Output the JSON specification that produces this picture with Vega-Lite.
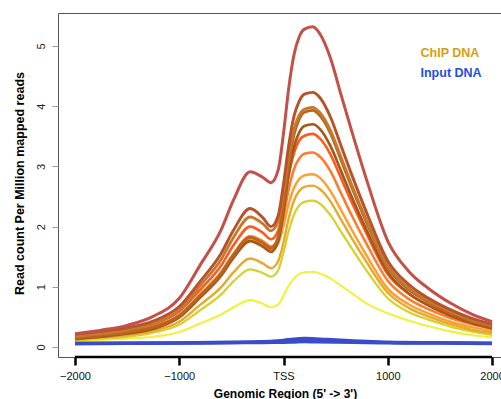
{
"$schema": "https://vega.github.io/schema/vega-lite/v6.json",
"autosize": {"type": "none"},
"padding": {"left": 58, "top": 13, "right": 0, "bottom": 42},
"width": 443,
"height": 344,
"config": {"font": "Liberation Sans", "view": {"stroke": "#555555", "strokeWidth": 1}},
"datasets": {
"chip": [
{"s":"K","x":-2000,"y":0.10},{"s":"K","x":-1750,"y":0.12},{"s":"K","x":-1500,"y":0.14},{"s":"K","x":-1250,"y":0.17},{"s":"K","x":-1000,"y":0.25},{"s":"K","x":-800,"y":0.39},{"s":"K","x":-600,"y":0.54},{"s":"K","x":-480,"y":0.66},{"s":"K","x":-320,"y":0.78},{"s":"K","x":-200,"y":0.72},{"s":"K","x":-120,"y":0.66},{"s":"K","x":-50,"y":0.71},{"s":"K","x":0,"y":0.85},{"s":"K","x":50,"y":1.02},{"s":"K","x":100,"y":1.14},{"s":"K","x":150,"y":1.21},{"s":"K","x":200,"y":1.24},{"s":"K","x":280,"y":1.25},{"s":"K","x":350,"y":1.22},{"s":"K","x":450,"y":1.14},{"s":"K","x":550,"y":1.02},{"s":"K","x":650,"y":0.90},{"s":"K","x":800,"y":0.72},{"s":"K","x":1000,"y":0.56},{"s":"K","x":1200,"y":0.44},{"s":"K","x":1400,"y":0.34},{"s":"K","x":1600,"y":0.26},{"s":"K","x":1800,"y":0.20},{"s":"K","x":2000,"y":0.16},
{"s":"J","x":-2000,"y":0.11},{"s":"J","x":-1750,"y":0.14},{"s":"J","x":-1500,"y":0.17},{"s":"J","x":-1250,"y":0.24},{"s":"J","x":-1000,"y":0.37},{"s":"J","x":-800,"y":0.61},{"s":"J","x":-600,"y":0.87},{"s":"J","x":-480,"y":1.09},{"s":"J","x":-320,"y":1.29},{"s":"J","x":-200,"y":1.23},{"s":"J","x":-120,"y":1.17},{"s":"J","x":-50,"y":1.28},{"s":"J","x":0,"y":1.57},{"s":"J","x":50,"y":1.93},{"s":"J","x":100,"y":2.20},{"s":"J","x":150,"y":2.35},{"s":"J","x":200,"y":2.41},{"s":"J","x":280,"y":2.43},{"s":"J","x":350,"y":2.38},{"s":"J","x":450,"y":2.19},{"s":"J","x":550,"y":1.92},{"s":"J","x":650,"y":1.65},{"s":"J","x":800,"y":1.26},{"s":"J","x":1000,"y":0.81},{"s":"J","x":1200,"y":0.58},{"s":"J","x":1400,"y":0.45},{"s":"J","x":1600,"y":0.34},{"s":"J","x":1800,"y":0.26},{"s":"J","x":2000,"y":0.20},
{"s":"I","x":-2000,"y":0.13},{"s":"I","x":-1750,"y":0.16},{"s":"I","x":-1500,"y":0.20},{"s":"I","x":-1250,"y":0.27},{"s":"I","x":-1000,"y":0.42},{"s":"I","x":-800,"y":0.70},{"s":"I","x":-600,"y":0.99},{"s":"I","x":-480,"y":1.24},{"s":"I","x":-320,"y":1.47},{"s":"I","x":-200,"y":1.39},{"s":"I","x":-120,"y":1.31},{"s":"I","x":-50,"y":1.43},{"s":"I","x":0,"y":1.74},{"s":"I","x":50,"y":2.14},{"s":"I","x":100,"y":2.43},{"s":"I","x":150,"y":2.59},{"s":"I","x":200,"y":2.66},{"s":"I","x":280,"y":2.68},{"s":"I","x":350,"y":2.62},{"s":"I","x":450,"y":2.42},{"s":"I","x":550,"y":2.12},{"s":"I","x":650,"y":1.82},{"s":"I","x":800,"y":1.40},{"s":"I","x":1000,"y":0.90},{"s":"I","x":1200,"y":0.65},{"s":"I","x":1400,"y":0.50},{"s":"I","x":1600,"y":0.38},{"s":"I","x":1800,"y":0.29},{"s":"I","x":2000,"y":0.23},
{"s":"H","x":-2000,"y":0.14},{"s":"H","x":-1750,"y":0.18},{"s":"H","x":-1500,"y":0.23},{"s":"H","x":-1250,"y":0.32},{"s":"H","x":-1000,"y":0.50},{"s":"H","x":-800,"y":0.84},{"s":"H","x":-600,"y":1.20},{"s":"H","x":-480,"y":1.50},{"s":"H","x":-320,"y":1.79},{"s":"H","x":-200,"y":1.71},{"s":"H","x":-120,"y":1.62},{"s":"H","x":-50,"y":1.73},{"s":"H","x":0,"y":2.02},{"s":"H","x":50,"y":2.38},{"s":"H","x":100,"y":2.64},{"s":"H","x":150,"y":2.79},{"s":"H","x":200,"y":2.85},{"s":"H","x":280,"y":2.87},{"s":"H","x":350,"y":2.81},{"s":"H","x":450,"y":2.59},{"s":"H","x":550,"y":2.28},{"s":"H","x":650,"y":1.96},{"s":"H","x":800,"y":1.51},{"s":"H","x":1000,"y":0.97},{"s":"H","x":1200,"y":0.71},{"s":"H","x":1400,"y":0.55},{"s":"H","x":1600,"y":0.42},{"s":"H","x":1800,"y":0.33},{"s":"H","x":2000,"y":0.26},
{"s":"G","x":-2000,"y":0.16},{"s":"G","x":-1750,"y":0.20},{"s":"G","x":-1500,"y":0.25},{"s":"G","x":-1250,"y":0.34},{"s":"G","x":-1000,"y":0.53},{"s":"G","x":-800,"y":0.87},{"s":"G","x":-600,"y":1.24},{"s":"G","x":-480,"y":1.55},{"s":"G","x":-320,"y":1.84},{"s":"G","x":-200,"y":1.76},{"s":"G","x":-120,"y":1.67},{"s":"G","x":-50,"y":1.80},{"s":"G","x":0,"y":2.17},{"s":"G","x":50,"y":2.62},{"s":"G","x":100,"y":2.95},{"s":"G","x":150,"y":3.13},{"s":"G","x":200,"y":3.21},{"s":"G","x":280,"y":3.23},{"s":"G","x":350,"y":3.16},{"s":"G","x":450,"y":2.92},{"s":"G","x":550,"y":2.56},{"s":"G","x":650,"y":2.20},{"s":"G","x":800,"y":1.70},{"s":"G","x":1000,"y":1.10},{"s":"G","x":1200,"y":0.80},{"s":"G","x":1400,"y":0.62},{"s":"G","x":1600,"y":0.48},{"s":"G","x":1800,"y":0.38},{"s":"G","x":2000,"y":0.30},
{"s":"F","x":-2000,"y":0.19},{"s":"F","x":-1750,"y":0.23},{"s":"F","x":-1500,"y":0.28},{"s":"F","x":-1250,"y":0.38},{"s":"F","x":-1000,"y":0.59},{"s":"F","x":-800,"y":0.95},{"s":"F","x":-600,"y":1.35},{"s":"F","x":-480,"y":1.69},{"s":"F","x":-320,"y":2.00},{"s":"F","x":-200,"y":1.90},{"s":"F","x":-120,"y":1.79},{"s":"F","x":-50,"y":1.94},{"s":"F","x":0,"y":2.35},{"s":"F","x":50,"y":2.85},{"s":"F","x":100,"y":3.22},{"s":"F","x":150,"y":3.43},{"s":"F","x":200,"y":3.51},{"s":"F","x":280,"y":3.54},{"s":"F","x":350,"y":3.46},{"s":"F","x":450,"y":3.20},{"s":"F","x":550,"y":2.81},{"s":"F","x":650,"y":2.42},{"s":"F","x":800,"y":1.87},{"s":"F","x":1000,"y":1.21},{"s":"F","x":1200,"y":0.89},{"s":"F","x":1400,"y":0.69},{"s":"F","x":1600,"y":0.54},{"s":"F","x":1800,"y":0.42},{"s":"F","x":2000,"y":0.34},
{"s":"E","x":-2000,"y":0.13},{"s":"E","x":-1750,"y":0.17},{"s":"E","x":-1500,"y":0.22},{"s":"E","x":-1250,"y":0.30},{"s":"E","x":-1000,"y":0.49},{"s":"E","x":-800,"y":0.82},{"s":"E","x":-600,"y":1.18},{"s":"E","x":-480,"y":1.48},{"s":"E","x":-320,"y":1.76},{"s":"E","x":-200,"y":1.67},{"s":"E","x":-120,"y":1.58},{"s":"E","x":-50,"y":1.76},{"s":"E","x":0,"y":2.25},{"s":"E","x":50,"y":2.87},{"s":"E","x":100,"y":3.32},{"s":"E","x":150,"y":3.56},{"s":"E","x":200,"y":3.67},{"s":"E","x":280,"y":3.70},{"s":"E","x":350,"y":3.62},{"s":"E","x":450,"y":3.34},{"s":"E","x":550,"y":2.93},{"s":"E","x":650,"y":2.51},{"s":"E","x":800,"y":1.93},{"s":"E","x":1000,"y":1.24},{"s":"E","x":1200,"y":0.89},{"s":"E","x":1400,"y":0.68},{"s":"E","x":1600,"y":0.52},{"s":"E","x":1800,"y":0.40},{"s":"E","x":2000,"y":0.31},
{"s":"D","x":-2000,"y":0.15},{"s":"D","x":-1750,"y":0.19},{"s":"D","x":-1500,"y":0.24},{"s":"D","x":-1250,"y":0.33},{"s":"D","x":-1000,"y":0.52},{"s":"D","x":-800,"y":0.86},{"s":"D","x":-600,"y":1.22},{"s":"D","x":-480,"y":1.53},{"s":"D","x":-320,"y":1.82},{"s":"D","x":-200,"y":1.73},{"s":"D","x":-120,"y":1.64},{"s":"D","x":-50,"y":1.84},{"s":"D","x":0,"y":2.37},{"s":"D","x":50,"y":3.03},{"s":"D","x":100,"y":3.52},{"s":"D","x":150,"y":3.78},{"s":"D","x":200,"y":3.90},{"s":"D","x":280,"y":3.93},{"s":"D","x":350,"y":3.84},{"s":"D","x":450,"y":3.55},{"s":"D","x":550,"y":3.11},{"s":"D","x":650,"y":2.67},{"s":"D","x":800,"y":2.05},{"s":"D","x":1000,"y":1.32},{"s":"D","x":1200,"y":0.95},{"s":"D","x":1400,"y":0.74},{"s":"D","x":1600,"y":0.57},{"s":"D","x":1800,"y":0.43},{"s":"D","x":2000,"y":0.34},
{"s":"C","x":-2000,"y":0.18},{"s":"C","x":-1750,"y":0.22},{"s":"C","x":-1500,"y":0.28},{"s":"C","x":-1250,"y":0.39},{"s":"C","x":-1000,"y":0.61},{"s":"C","x":-800,"y":1.02},{"s":"C","x":-600,"y":1.45},{"s":"C","x":-480,"y":1.82},{"s":"C","x":-320,"y":2.16},{"s":"C","x":-200,"y":2.05},{"s":"C","x":-120,"y":1.93},{"s":"C","x":-50,"y":2.10},{"s":"C","x":0,"y":2.58},{"s":"C","x":50,"y":3.17},{"s":"C","x":100,"y":3.61},{"s":"C","x":150,"y":3.85},{"s":"C","x":200,"y":3.95},{"s":"C","x":280,"y":3.98},{"s":"C","x":350,"y":3.89},{"s":"C","x":450,"y":3.60},{"s":"C","x":550,"y":3.16},{"s":"C","x":650,"y":2.71},{"s":"C","x":800,"y":2.09},{"s":"C","x":1000,"y":1.35},{"s":"C","x":1200,"y":0.98},{"s":"C","x":1400,"y":0.76},{"s":"C","x":1600,"y":0.59},{"s":"C","x":1800,"y":0.45},{"s":"C","x":2000,"y":0.36},
{"s":"B","x":-2000,"y":0.21},{"s":"B","x":-1750,"y":0.26},{"s":"B","x":-1500,"y":0.32},{"s":"B","x":-1250,"y":0.43},{"s":"B","x":-1000,"y":0.67},{"s":"B","x":-800,"y":1.09},{"s":"B","x":-600,"y":1.55},{"s":"B","x":-480,"y":1.94},{"s":"B","x":-320,"y":2.30},{"s":"B","x":-200,"y":2.15},{"s":"B","x":-120,"y":2.00},{"s":"B","x":-50,"y":2.19},{"s":"B","x":0,"y":2.71},{"s":"B","x":50,"y":3.35},{"s":"B","x":100,"y":3.83},{"s":"B","x":150,"y":4.08},{"s":"B","x":200,"y":4.20},{"s":"B","x":280,"y":4.23},{"s":"B","x":350,"y":4.14},{"s":"B","x":450,"y":3.82},{"s":"B","x":550,"y":3.35},{"s":"B","x":650,"y":2.88},{"s":"B","x":800,"y":2.22},{"s":"B","x":1000,"y":1.43},{"s":"B","x":1200,"y":1.04},{"s":"B","x":1400,"y":0.80},{"s":"B","x":1600,"y":0.62},{"s":"B","x":1800,"y":0.48},{"s":"B","x":2000,"y":0.38},
{"s":"A","x":-2000,"y":0.22},{"s":"A","x":-1750,"y":0.28},{"s":"A","x":-1500,"y":0.36},{"s":"A","x":-1250,"y":0.51},{"s":"A","x":-1000,"y":0.81},{"s":"A","x":-800,"y":1.36},{"s":"A","x":-600,"y":1.94},{"s":"A","x":-480,"y":2.44},{"s":"A","x":-320,"y":2.91},{"s":"A","x":-200,"y":2.82},{"s":"A","x":-120,"y":2.73},{"s":"A","x":-50,"y":2.95},{"s":"A","x":0,"y":3.55},{"s":"A","x":50,"y":4.30},{"s":"A","x":100,"y":4.85},{"s":"A","x":150,"y":5.15},{"s":"A","x":200,"y":5.28},{"s":"A","x":280,"y":5.32},{"s":"A","x":350,"y":5.20},{"s":"A","x":450,"y":4.80},{"s":"A","x":550,"y":4.20},{"s":"A","x":650,"y":3.61},{"s":"A","x":800,"y":2.76},{"s":"A","x":1000,"y":1.76},{"s":"A","x":1200,"y":1.26},{"s":"A","x":1400,"y":0.96},{"s":"A","x":1600,"y":0.73},{"s":"A","x":1800,"y":0.55},{"s":"A","x":2000,"y":0.42}
],
"input": [
{"s":"I1","x":-2000,"y":0.06},{"s":"I1","x":-1500,"y":0.062},{"s":"I1","x":-1000,"y":0.065},{"s":"I1","x":-500,"y":0.07},{"s":"I1","x":-300,"y":0.075},{"s":"I1","x":-100,"y":0.078},{"s":"I1","x":0,"y":0.08},{"s":"I1","x":100,"y":0.085},{"s":"I1","x":200,"y":0.09},{"s":"I1","x":300,"y":0.088},{"s":"I1","x":500,"y":0.082},{"s":"I1","x":800,"y":0.075},{"s":"I1","x":1000,"y":0.07},{"s":"I1","x":1500,"y":0.065},{"s":"I1","x":2000,"y":0.06},
{"s":"I2","x":-2000,"y":0.06},{"s":"I2","x":-1500,"y":0.063},{"s":"I2","x":-1000,"y":0.068},{"s":"I2","x":-500,"y":0.078},{"s":"I2","x":-300,"y":0.085},{"s":"I2","x":-100,"y":0.095},{"s":"I2","x":0,"y":0.11},{"s":"I2","x":100,"y":0.13},{"s":"I2","x":200,"y":0.14},{"s":"I2","x":300,"y":0.135},{"s":"I2","x":500,"y":0.115},{"s":"I2","x":800,"y":0.09},{"s":"I2","x":1000,"y":0.08},{"s":"I2","x":1500,"y":0.07},{"s":"I2","x":2000,"y":0.062}
],
"labels": [
{"label": "ChIP DNA", "kind": "ChIP"},
{"label": "Input DNA", "kind": "Input"}
]
},
"layer": [
{
"data": {"name": "chip"},
"mark": {"type": "line", "interpolate": "monotone", "clip": true},
"encoding": {
"x": {"field": "x", "type": "quantitative", "scale": {"domain": [-2163, 2086], "nice": false, "zero": false},
"axis": {"values": [-2000, -1000, 0, 1000, 2000], "labelExpr": "datum.value == 0 ? 'TSS' : replace(format(datum.value, 'd'), '-', '\u2212')", "grid": false, "domain": false, "ticks": true, "tickColor": "#000000", "tickWidth": 2.5, "tickSize": 8, "labelPadding": 5, "labelFontSize": 11, "labelColor": "#111111", "labelFont": "Liberation Sans", "title": "Genomic Region (5' -> 3')", "titleFont": "Liberation Sans", "titleFontSize": 12, "titleFontWeight": "bold", "titleColor": "#000000", "titleBaseline": "alphabetic", "titleY": 40.5, "titleX": 227, "titleAnchor": "middle"}},
"y": {"field": "y", "type": "quantitative", "scale": {"domain": [-0.166, 5.548], "nice": false, "zero": false},
"axis": {"values": [0, 1, 2, 3, 4, 5], "format": "d", "grid": false, "domain": false, "tickColor": "#999999", "tickWidth": 1, "tickSize": 6, "labelAngle": -90, "labelAlign": "center", "labelBaseline": "bottom", "labelPadding": 6, "labelFontSize": 11, "labelColor": "#222222", "labelFont": "Liberation Sans", "title": "Read count Per Million mapped reads", "titleFont": "Liberation Sans", "titleFontSize": 12.5, "titleFontWeight": "bold", "titleColor": "#000000", "titleAngle": -90, "titleBaseline": "alphabetic", "titleX": -35, "titleY": 170, "titleAlign": "center"}},
"color": {"field": "s", "type": "nominal", "legend": null,
"scale": {"domain": ["A","B","C","D","E","F","G","H","I","J","K"],
"range": ["#C4504A","#B8522A","#C47A2E","#B8661E","#A8561A","#FF5A1E","#FF7A2A","#FF9E2E","#E6A92A","#D9CF2E","#F2F040"]}},
"strokeWidth": {"field": "s", "type": "nominal", "legend": null,
"scale": {"domain": ["A","B","C","D","E","F","G","H","I","J","K"], "range": [3,2.2,2.2,2.2,2.2,2.2,2.2,2.2,2.2,2.2,2.2]}},
"order": {"field": "x", "type": "quantitative"}
}
},
{
"data": {"name": "input"},
"mark": {"type": "line", "interpolate": "monotone", "color": "#3B4CCB", "strokeWidth": 3.5, "clip": true},
"encoding": {
"x": {"field": "x", "type": "quantitative"},
"y": {"field": "y", "type": "quantitative"},
"detail": {"field": "s", "type": "nominal"}
}
},
{
"data": {"values": [{}]},
"mark": {"type": "rule", "color": "#000000", "strokeWidth": 2.5},
"encoding": {
"x": {"datum": -2000, "type": "quantitative"},
"x2": {"datum": 2000},
"y": {"datum": -0.166, "type": "quantitative"}
}
},
{
"data": {"name": "labels"},
"transform": [{"filter": "datum.kind == 'ChIP'"}],
"mark": {"type": "text", "align": "left", "baseline": "middle", "font": "Liberation Sans", "fontSize": 12.5, "fontWeight": "bold", "fill": "#D4A012"},
"encoding": {
"x": {"datum": 1314, "type": "quantitative"},
"y": {"datum": 4.884, "type": "quantitative"},
"text": {"field": "label", "type": "nominal"}
}
},
{
"data": {"name": "labels"},
"transform": [{"filter": "datum.kind == 'Input'"}],
"mark": {"type": "text", "align": "left", "baseline": "middle", "font": "Liberation Sans", "fontSize": 12.5, "fontWeight": "bold", "fill": "#1E4FE6"},
"encoding": {
"x": {"datum": 1314, "type": "quantitative"},
"y": {"datum": 4.546, "type": "quantitative"},
"text": {"field": "label", "type": "nominal"}
}
}
]
}
